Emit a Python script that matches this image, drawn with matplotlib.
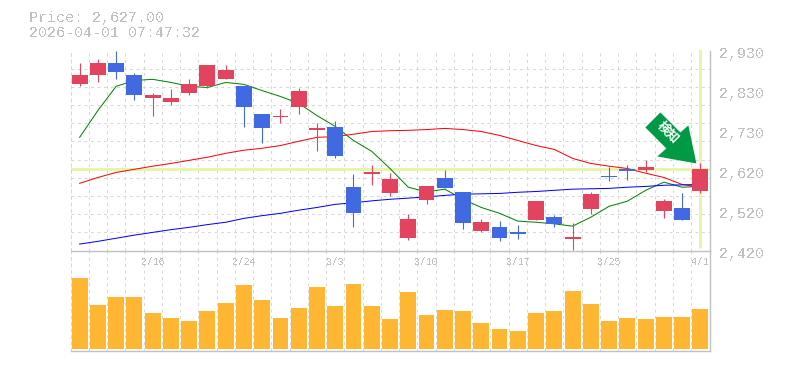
import numpy as np
import matplotlib
matplotlib.use("Agg")
import matplotlib.pyplot as plt
from matplotlib.patches import Polygon
from matplotlib.transforms import Affine2D

plt.rcParams['font.family'] = ['Liberation Mono', 'Noto Sans CJK JP', 'DejaVu Sans']
plt.rcParams['text.antialiased'] = False

opens  = [2845,2866,2899,2868,2809,2799,2820,2840,2858,2838,2768,2758,2786,2725,2733,2579,2612,2563,2448,2545,2602,2566,2466,2476,2463,2494,2502,2445,2522,2607,2625,2622,2517,2525,2568]
closes = [2868,2897,2876,2815,2815,2809,2843,2894,2881,2784,2730,2763,2827,2730,2658,2512,2617,2599,2497,2581,2576,2486,2489,2448,2458,2543,2484,2451,2561,2604,2620,2630,2543,2494,2627]
highs  = [2897,2907,2930,2871,2822,2830,2856,2894,2894,2840,2768,2781,2835,2743,2748,2612,2635,2615,2510,2581,2622,2566,2497,2492,2481,2543,2507,2486,2566,2630,2635,2648,2548,2563,2640]
lows   = [2838,2850,2856,2802,2763,2789,2817,2835,2856,2733,2692,2743,2768,2671,2653,2476,2584,2556,2443,2535,2576,2471,2463,2440,2445,2494,2476,2417,2509,2594,2597,2617,2499,2494,2563]
ma_short = [2707,2776,2838,2853,2856,2848,2838,2835,2848,2843,2827,2812,2794,2763,2735,2699,2671,2627,2579,2567,2574,2548,2527,2512,2492,2489,2485,2479,2502,2530,2543,2571,2592,2579,2581]
ma_mid   = [2589,2604,2617,2625,2633,2640,2648,2656,2666,2674,2679,2686,2697,2707,2709,2715,2722,2724,2725,2727,2730,2727,2722,2712,2699,2686,2676,2653,2640,2633,2627,2615,2604,2586,2579]
ma_long  = [2433,2440,2448,2456,2463,2470,2476,2483,2489,2499,2506,2512,2520,2527,2535,2539,2544,2548,2551,2554,2558,2561,2562,2563,2566,2568,2571,2574,2575,2576,2579,2581,2584,2585,2586]
volume = [213,132,156,156,108,93,84,114,138,192,147,93,123,186,129,195,129,90,171,102,117,114,78,60,54,108,114,174,135,84,93,90,96,96,120]
date_pos = [4,9,14,19,24,29,34]
date_labels = ['2/16','2/24','3/3','3/10','3/17','3/25','4/1']
price_ticks = [2930,2827.3,2724.6,2621.9,2519.2,2416.5]
price_labels = ['2,930','2,830','2,730','2,620','2,520','2,420']
title_lines = ['Price: 2,627.00','2026-04-01 07:47:32']
signal_label = '検知'

W, H = 785, 370
RED, BLUE = '#e2435f', '#4169e1'
GREY, GRID = '#c0c0c0', '#d8d8d8'
HILITE = '#e6f5a8'
PX = 0.72

fig = plt.figure(figsize=(W/100, H/100), dpi=100)
def axes_px(l, t, r, b):
    return fig.add_axes([l/W, 1-b/H, (r-l)/W, (b-t)/H])
av = axes_px(70.5, 250.5, 709.5, 350.5)
ax = axes_px(70.5, 50.5, 709.5, 250.5)
ax.patch.set_alpha(0)

x = np.arange(len(opens))
for a in (ax, av):
    a.set_xlim(-0.5, len(x)-0.5)
    a.set_xticks(x[:-1]+0.5, minor=True)
    a.grid(True, which='minor', axis='x', color=GRID, lw=PX, ls=(0, (3, 3.5)))
    a.tick_params(which='both', length=0)
    a.set_axisbelow(True)
    a.spines['top'].set_visible(False)
    a.spines['left'].set_color(GRID)
    a.spines['left'].set_linestyle((0, (3, 3.5)))
    a.spines['left'].set_linewidth(PX)
    a.spines['right'].set_color(GREY)
    a.spines['bottom'].set_color(GREY)
    a.spines['right'].set_linewidth(1.4*PX)
    a.spines['bottom'].set_linewidth(1.4*PX)

# price panel
ax.set_ylim(price_ticks[-1], price_ticks[0])
ax.set_yticks(np.linspace(price_ticks[-1], price_ticks[0], 12), minor=True)
ax.grid(True, which='minor', axis='y', color=GRID, lw=PX, ls=(0, (3, 3.5)))
ax.set_xticks([])
ax.yaxis.tick_right()
ax.set_yticks(price_ticks, price_labels)
ax.tick_params(axis='y', which='major', labelsize=10.8, labelcolor=GREY, pad=7)
for lab in ax.get_yticklabels():
    lab.set_transform(lab.get_transform() + Affine2D().translate(0, -1.5))

last = closes[-1]
ax.axhline(last, color=HILITE, lw=3*PX, zorder=1)
ax.vlines(x[-1], 2423, price_ticks[0]+5, color=HILITE, lw=3*PX, zorder=1, clip_on=False)

for vals, col in ((ma_short, '#008000'), (ma_mid, '#ff0000'), (ma_long, '#0000ff')):
    ax.plot(x, vals, color=col, lw=1.0*PX, zorder=2)

colors = [RED if c >= o else BLUE for o, c in zip(opens, closes)]
ax.vlines(x, lows, highs, colors=colors, lw=1.1*PX, zorder=3)
bottoms = [min(o, c) for o, c in zip(opens, closes)]
heights = [abs(o-c) for o, c in zip(opens, closes)]
ax.bar(x, heights, bottom=bottoms, width=0.87, color=colors, lw=0, zorder=4)

# signal arrow, anchored on the last candle (offsets in px from its tip)
shape = np.array([(-51,-36),(-36,-51),(-16,-31),(-8,-38),(0,0),(-39,-7),(-30,-15)], float)
fig.canvas.draw()
ax_x, ax_y = ax.transData.transform((x[-1], highs[-1]))
tip = Affine2D().scale(1, -1).translate(ax_x-4, ax_y)
ax.add_patch(Polygon(shape, closed=True, transform=tip, facecolor='#009944', edgecolor='none', zorder=5, clip_on=False))
tx, ty = tip.transform((-28, -31))
ax.text(tx, ty, signal_label, transform=None, rotation=-45, rotation_mode='anchor', ha='center', va='center',
        fontsize=9, fontweight='bold', color='white', family=['Noto Sans CJK JP'], zorder=6, antialiased=True)

# volume panel
av.set_ylim(-6, 294)
av.set_yticks([])
av.bar(x, volume, width=0.87, color='#ffb733', lw=0, zorder=3)
av.set_xticks([])
for pos, lab in zip(date_pos, date_labels):
    av.text(pos, 0.885, lab, transform=av.get_xaxis_transform(), fontsize=7, color=GREY,
            ha='center', va='center', zorder=5)

fig.text(29/W, 1-18/H, title_lines[0], fontsize=10.8, color=GREY, va='center', ha='left')
fig.text(29/W, 1-33/H, title_lines[1], fontsize=10.8, color=GREY, va='center', ha='left')

fig.savefig('out.png', dpi=100)
